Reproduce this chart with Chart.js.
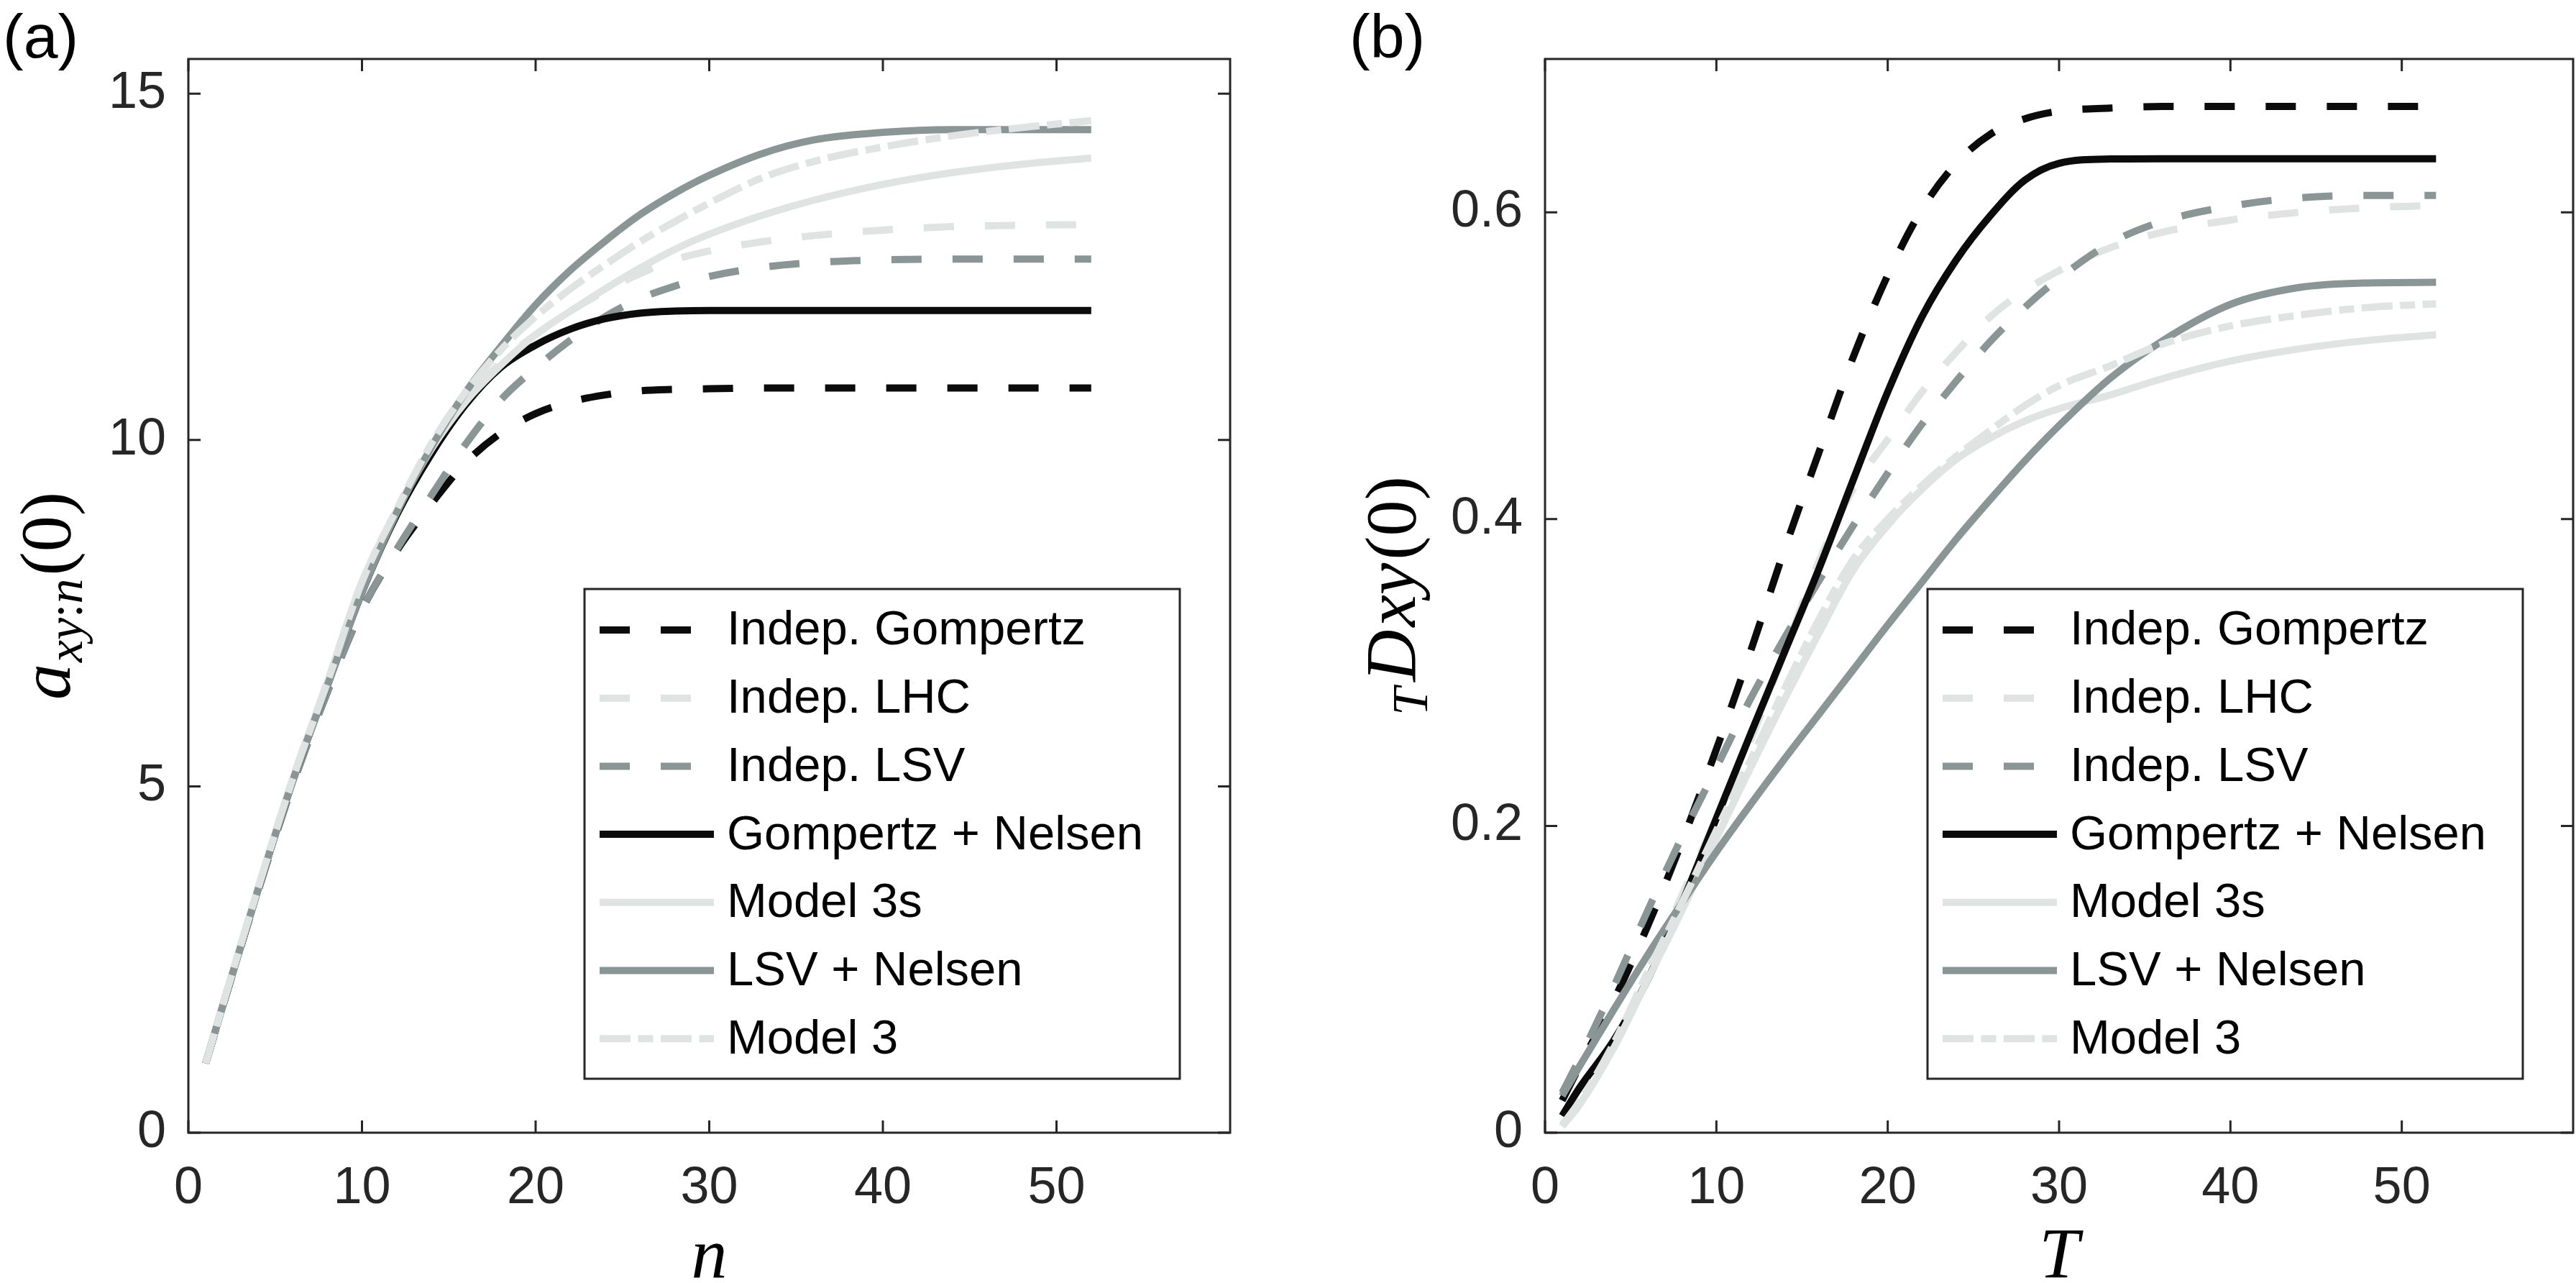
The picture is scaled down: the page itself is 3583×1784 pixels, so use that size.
<!DOCTYPE html>
<html>
<head>
<meta charset="utf-8">
<script src="https://cdn.jsdelivr.net/npm/chart.js@4.4.1/dist/chart.umd.min.js"></script>
<style>
  html, body { margin: 0; padding: 0; background: #fff; overflow: hidden; }
  #chartA { position: absolute; left: 0; top: 0; }
  #chartB { position: absolute; left: 1790px; top: 0; }
</style>
</head>
<body>
<canvas id="chartA" width="1790" height="1784"></canvas>
<canvas id="chartB" width="1793" height="1784"></canvas>
<script>
// ---- data ----
const seriesNames = ['Indep. Gompertz', 'Indep. LHC', 'Indep. LSV', 'Gompertz + Nelsen', 'Model 3s', 'LSV + Nelsen', 'Model 3'];

// (a) annuity value vs n
const nA = [1, 2, 4, 6, 8, 10, 12, 14, 16, 18, 20, 22, 24, 26, 28, 30, 33, 36, 40, 44, 48, 52];
const indepGompertzA = [1.0, 1.84, 3.48, 5.02, 6.36, 7.55, 8.4, 9.08, 9.68, 10.1, 10.38, 10.55, 10.65, 10.71, 10.73, 10.74, 10.75, 10.75, 10.75, 10.75, 10.75, 10.75];
const indepLhcA = [1.0, 1.86, 3.52, 5.1, 6.5, 7.95, 8.98, 9.88, 10.58, 11.12, 11.52, 11.86, 12.15, 12.4, 12.6, 12.73, 12.86, 12.95, 13.03, 13.08, 13.1, 13.11];
const indepLsvA = [1.0, 1.84, 3.48, 5.02, 6.36, 7.55, 8.42, 9.2, 9.95, 10.58, 11.04, 11.44, 11.78, 12.04, 12.22, 12.36, 12.49, 12.56, 12.6, 12.61, 12.61, 12.61];
const gompNelsenA = [1.0, 1.85, 3.5, 5.07, 6.45, 7.8, 8.92, 9.8, 10.52, 11.05, 11.37, 11.6, 11.75, 11.83, 11.86, 11.87, 11.87, 11.87, 11.87, 11.87, 11.87, 11.87];
const model3sA = [1.0, 1.86, 3.52, 5.1, 6.5, 7.95, 8.98, 9.87, 10.56, 11.08, 11.52, 11.86, 12.18, 12.48, 12.75, 12.97, 13.24, 13.46, 13.69, 13.86, 13.98, 14.07];
const lsvNelsenA = [1.0, 1.85, 3.5, 5.07, 6.45, 7.8, 8.95, 9.9, 10.7, 11.35, 11.95, 12.45, 12.87, 13.25, 13.56, 13.82, 14.13, 14.33, 14.44, 14.48, 14.48, 14.48];
const model3A = [1.0, 1.86, 3.52, 5.1, 6.5, 7.95, 9.0, 9.95, 10.7, 11.3, 11.78, 12.18, 12.53, 12.86, 13.15, 13.42, 13.78, 14.02, 14.23, 14.39, 14.51, 14.61];

// (b) TDxy(0) vs T
const tB = [1, 2, 4, 6, 8, 10, 12, 14, 16, 18, 20, 22, 24, 26, 28, 30, 33, 36, 40, 44, 48, 52];
const indepGompertzB = [0.021, 0.043, 0.086, 0.135, 0.19, 0.25, 0.314, 0.381, 0.444, 0.506, 0.559, 0.602, 0.632, 0.651, 0.661, 0.666, 0.668, 0.669, 0.669, 0.669, 0.669, 0.669];
const indepLhcB = [0.005, 0.02, 0.057, 0.105, 0.155, 0.205, 0.256, 0.314, 0.373, 0.42, 0.452, 0.483, 0.509, 0.532, 0.549, 0.562, 0.577, 0.587, 0.595, 0.6, 0.603, 0.6045];
const indepLsvB = [0.026, 0.048, 0.095, 0.145, 0.193, 0.238, 0.283, 0.323, 0.36, 0.396, 0.43, 0.462, 0.49, 0.516, 0.538, 0.557, 0.58, 0.594, 0.604, 0.6095, 0.611, 0.611];
const gompNelsenB = [0.011, 0.029, 0.06, 0.1, 0.15, 0.205, 0.26, 0.314, 0.368, 0.426, 0.483, 0.532, 0.569, 0.598, 0.621, 0.632, 0.6348, 0.635, 0.635, 0.635, 0.635, 0.635];
const model3sB = [0.004, 0.018, 0.055, 0.1, 0.145, 0.192, 0.238, 0.283, 0.326, 0.367, 0.396, 0.4195, 0.439, 0.453, 0.464, 0.472, 0.481, 0.4915, 0.503, 0.511, 0.5165, 0.5202];
const lsvNelsenB = [0.024, 0.043, 0.08, 0.116, 0.15, 0.183, 0.214, 0.244, 0.273, 0.302, 0.331, 0.359, 0.387, 0.413, 0.438, 0.461, 0.492, 0.516, 0.54, 0.551, 0.554, 0.5544];
const model3B = [0.005, 0.02, 0.058, 0.105, 0.15, 0.197, 0.243, 0.29, 0.335, 0.374, 0.4, 0.422, 0.441, 0.458, 0.474, 0.487, 0.5, 0.514, 0.526, 0.533, 0.538, 0.5404];

// ticks
const xTickVals = [0, 10, 20, 30, 40, 50];
const yTicksA = [0, 5, 10, 15];
const yTicksB = [0, 0.2, 0.4, 0.6];

// ---- styling ----
const AXIS = '#262626';
const BLACK = '#0b0b0b', LIGHT = '#dfe4e3', MID = '#899695';
const DASH = [42, 43], DASHDOT = [43, 10.5, 21, 10.5];
const looks = [
  { color: BLACK, dash: DASH },
  { color: LIGHT, dash: DASH },
  { color: MID, dash: DASH },
  { color: BLACK, dash: [] },
  { color: LIGHT, dash: [] },
  { color: MID, dash: [] },
  { color: LIGHT, dash: DASHDOT }
];
const SANS = "'Liberation Sans', Arial, Helvetica, sans-serif";
const SERIF = "'Liberation Serif', 'Times New Roman', serif";

function makeSets(xs, cols) {
  return cols.map((ys, i) => ({
    label: seriesNames[i],
    data: xs.map((x, j) => ({ x: x, y: ys[j] })),
    borderColor: looks[i].color,
    borderDash: looks[i].dash,
    borderWidth: 10,
    pointRadius: 0,
    fill: false,
    cubicInterpolationMode: 'monotone',
    order: cols.length - i   // later series drawn on top, as in the original
  }));
}

// rotated label with sub-scripts, read bottom-to-top
function drawRich(ctx, parts, baseX, centerY) {
  const fonts = {
    i: 'italic 100px ' + SERIF,
    r: '100px ' + SERIF,
    si: 'italic 70px ' + SERIF,
    sr: '70px ' + SERIF
  };
  let total = 0;
  parts.forEach(p => { ctx.font = fonts[p.f]; p.w = ctx.measureText(p.t).width + (p.gap || 0); total += p.w; });
  ctx.save();
  ctx.translate(baseX, centerY);
  ctx.rotate(-Math.PI / 2);
  ctx.fillStyle = '#000';
  ctx.textBaseline = 'alphabetic';
  ctx.textAlign = 'left';
  let x = -total / 2;
  parts.forEach(p => {
    ctx.font = fonts[p.f];
    ctx.fillText(p.t, x, p.f.startsWith('s') ? 17 : 0);
    x += p.w;
  });
  ctx.restore();
}

const framePlugin = {
  id: 'frame',
  afterDraw(chart, args, o) {
    const { ctx, chartArea: a } = chart;
    const xs = chart.scales.x, ys = chart.scales.y;
    ctx.save();
    // inward ticks on all four sides + box
    ctx.strokeStyle = AXIS;
    ctx.lineWidth = 3;
    ctx.setLineDash([]);
    ctx.beginPath();
    o.xTicks.forEach(v => {
      const px = xs.getPixelForValue(v);
      ctx.moveTo(px, a.bottom); ctx.lineTo(px, a.bottom - 17);
      ctx.moveTo(px, a.top); ctx.lineTo(px, a.top + 17);
    });
    o.yTicks.forEach(v => {
      const py = ys.getPixelForValue(v);
      ctx.moveTo(a.left, py); ctx.lineTo(a.left + 17, py);
      ctx.moveTo(a.right, py); ctx.lineTo(a.right - 17, py);
    });
    ctx.stroke();
    ctx.strokeRect(a.left, a.top, a.right - a.left, a.bottom - a.top);

    // legend box
    const lr = a.right - 70, lb = a.bottom - 75, lt = a.top + 737;
    const ll = lr - 828;
    ctx.fillStyle = '#fff';
    ctx.fillRect(ll, lt, lr - ll, lb - lt);
    ctx.strokeStyle = AXIS;
    ctx.lineWidth = 3;
    ctx.strokeRect(ll, lt, lr - ll, lb - lt);
    ctx.font = '67px ' + SANS;
    ctx.textBaseline = 'middle';
    ctx.textAlign = 'left';
    chart.data.datasets.forEach((d, i) => {
      const cy = lt + 57 + i * 94.7;
      ctx.strokeStyle = d.borderColor;
      ctx.lineWidth = d.borderWidth;
      ctx.lineCap = 'butt';
      ctx.setLineDash(d.borderDash);
      ctx.beginPath();
      ctx.moveTo(ll + 21, cy);
      ctx.lineTo(ll + 180, cy);
      ctx.stroke();
      ctx.setLineDash([]);
      ctx.fillStyle = '#000';
      ctx.fillText(d.label, ll + 198, cy + 2);
    });

    // axis titles
    ctx.fillStyle = '#000';
    ctx.font = 'italic 100px ' + SERIF;
    ctx.textAlign = 'center';
    ctx.textBaseline = 'alphabetic';
    ctx.fillText(o.xTitle, (a.left + a.right) / 2, 1776);
    drawRich(ctx, o.yTitle, o.yTitleX, (a.top + a.bottom) / 2);

    // panel tag
    ctx.font = '86px ' + SANS;
    ctx.textAlign = 'left';
    ctx.fillText(o.tag, o.tagX, 80);
    ctx.restore();
  }
};

function makeScales(yMax, yTicks, yWidth) {
  const tickFont = { family: SANS, size: 72 };
  return {
    x: {
      type: 'linear', min: 0, max: 60,
      afterBuildTicks: s => { s.ticks = xTickVals.map(v => ({ value: v })); },
      afterFit: s => { s.height = 209; },
      grid: { display: false, drawTicks: false },
      border: { display: false },
      ticks: { padding: 35, color: AXIS, font: tickFont, maxRotation: 0, autoSkip: false, callback: v => String(v) }
    },
    y: {
      type: 'linear', min: 0, max: yMax,
      afterBuildTicks: s => { s.ticks = yTicks.map(v => ({ value: v })); },
      afterFit: s => { s.width = yWidth; },
      grid: { display: false, drawTicks: false },
      border: { display: false },
      ticks: { padding: 31, color: AXIS, font: tickFont, autoSkip: false, callback: v => String(v) }
    }
  };
}

new Chart(document.getElementById('chartA'), {
  type: 'line',
  data: { datasets: makeSets(nA, [indepGompertzA, indepLhcA, indepLsvA, gompNelsenA, model3sA, lsvNelsenA, model3A]) },
  options: {
    responsive: false,
    animation: false,
    layout: { padding: { left: 0, top: 82, right: 79, bottom: 0 } },
    scales: makeScales(15.5, yTicksA, 262),
    plugins: {
      legend: { display: false },
      tooltip: { enabled: false },
      frame: {
        xTicks: xTickVals, yTicks: yTicksA, xTitle: 'n', tag: '(a)', tagX: 4, yTitleX: 97,
        yTitle: [{ t: 'a', f: 'i', gap: 2 }, { t: 'xy', f: 'si' }, { t: ':', f: 'sr' }, { t: 'n', f: 'si', gap: 4 }, { t: '(0)', f: 'r' }]
      }
    }
  },
  plugins: [framePlugin]
});

new Chart(document.getElementById('chartB'), {
  type: 'line',
  data: { datasets: makeSets(tB, [indepGompertzB, indepLhcB, indepLsvB, gompNelsenB, model3sB, lsvNelsenB, model3B]) },
  options: {
    responsive: false,
    animation: false,
    layout: { padding: { left: 0, top: 82, right: 4, bottom: 0 } },
    scales: makeScales(0.7, yTicksB, 359),
    plugins: {
      legend: { display: false },
      tooltip: { enabled: false },
      frame: {
        xTicks: xTickVals, yTicks: yTicksB, xTitle: 'T', tag: '(b)', tagX: 87, yTitleX: 178,
        yTitle: [{ t: 'T', f: 'si', gap: 8 }, { t: 'D', f: 'i', gap: 4 }, { t: 'xy', f: 'i', gap: 4 }, { t: '(0)', f: 'r' }]
      }
    }
  },
  plugins: [framePlugin]
});
</script>
</body>
</html>
